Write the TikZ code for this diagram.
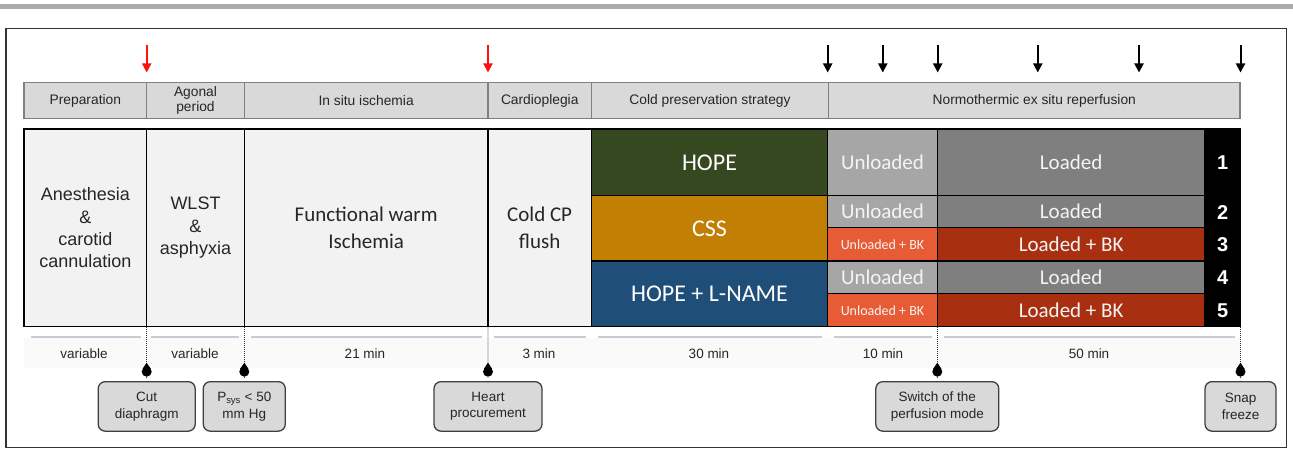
\documentclass[tikz,border=0pt]{standalone}
\usepackage{fontspec}
\setmainfont{Liberation Sans}
\newfontfamily\calib{Carlito}
\usetikzlibrary{arrows.meta}
\definecolor{hopeC}{HTML}{36481F}
\definecolor{cssC}{HTML}{C17F04}
\definecolor{lnameC}{HTML}{1F4E79}
\definecolor{unlC}{HTML}{A6A6A6}
\definecolor{ldC}{HTML}{7F7F7F}
\definecolor{ubkC}{HTML}{E75B35}
\definecolor{lbkC}{HTML}{A92F11}
\definecolor{paleC}{HTML}{F2F2F2}
\definecolor{hdrC}{HTML}{D9D9D9}
\definecolor{hdrLine}{HTML}{808080}
\definecolor{durLine}{HTML}{C5CCD4}
\definecolor{durBg}{HTML}{FAFAFA}
\definecolor{txtC}{HTML}{262626}
\definecolor{topC}{HTML}{ABABAB}
\definecolor{frameC}{HTML}{333333}
\definecolor{redA}{HTML}{FF1010}
\definecolor{whiteT}{HTML}{F4F4F4}
\tikzset{
  hdr/.style={draw=hdrLine, line width=1.1pt, fill=hdrC, inner sep=0pt, outer sep=0pt,
    align=center, text=txtC, font=\fontsize{13.8}{15.6}\selectfont, minimum height=35.6pt},
  cell/.style={draw=black, line width=1.2pt, inner sep=0pt, outer sep=0pt, align=center},
  palecell/.style={cell, fill=paleC, text=txtC, minimum height=197.7pt},
  arialbig/.style={font=\fontsize{18}{22.3}\selectfont},
  calbig/.style={font=\calib\fontsize{21}{26.5}\selectfont},
  strat/.style={cell, fill=#1, text=white, font=\calib\fontsize{24}{28}\selectfont, minimum width=236.4pt},
  unl/.style={cell, fill=#1, text=whiteT, font=\calib\fontsize{21}{24}\selectfont, minimum width=109.6pt},
  unlsmall/.style={cell, fill=#1, text=whiteT, font=\calib\fontsize{14}{16}\selectfont, minimum width=109.6pt},
  ld/.style={cell, fill=#1, text=whiteT, font=\calib\fontsize{21}{24}\selectfont, minimum width=267.7pt},
  numlab/.style={text=white, font=\bfseries\fontsize{20}{24}\selectfont, inner sep=0pt},
  redarrow/.style={draw=redA, line width=2pt, -{Triangle[width=9pt,length=9pt]}},
  blackarrow/.style={draw=black, line width=2pt, -{Triangle[width=9pt,length=9pt]}},
  durseg/.style={draw=durLine, line width=2pt},
  durlabel/.style={text=txtC, font=\fontsize{13.5}{16}\selectfont, inner sep=0pt},
  dotline/.style={draw=black!80, line width=0.9pt, dash pattern=on 1pt off 1pt},
  callout/.style={draw=black!75, line width=1.3pt, fill=hdrC, rounded corners=7pt, inner sep=0pt,
    outer sep=0pt, align=center, text=txtC, font=\fontsize{13.5}{16.7}\selectfont, minimum height=49.5pt},
}
\newcommand\droppin[1]{%
  \fill[black] (#1,371.7) circle (5pt);
  \fill[black] (#1,362.7) -- (#1-4.16,368.9) -- (#1+4.16,368.9) -- cycle;}
\begin{document}
\begin{tikzpicture}[x=1pt,y=-1pt]
\useasboundingbox (0,0) rectangle (1293,449);
% top bar and frame
\fill[topC] (0,4) rectangle (1293,9);
\draw[frameC, line width=1.5pt] (6,28.3) rectangle (1286.3,447.5);

% header
\node[hdr, minimum width=122.7pt] (hPrep) at (85.35,100.5) {Preparation};
\node[hdr, minimum width=97.6pt] (hAgon) at (195.5,100.5) {Agonal\\period};
\node[hdr, minimum width=243.7pt] (hSitu) at (366.15,100.5) {In situ ischemia};
\node[hdr, minimum width=103.5pt] (hCard) at (539.75,100.5) {Cardioplegia};
\node[hdr, minimum width=237pt] (hCold) at (710,100.5) {Cold preservation strategy};
\node[hdr, minimum width=411.5pt] (hNorm) at (1034.25,100.5) {Normothermic ex situ reperfusion};

% arrows
\foreach \i/\xx in {1/146.7,2/488}{
  \coordinate (rt\i) at (\xx,45);
  \coordinate (rh\i) at (\xx,72.5);
  \draw[redarrow] (rt\i) -- (rh\i);
}
\foreach \i/\xx in {1/827.7,2/882.8,3/937.7,4/1037.8,5/1139,6/1240.5}{
  \coordinate (bt\i) at (\xx,45);
  \coordinate (bh\i) at (\xx,72.5);
  \draw[blackarrow] (bt\i) -- (bh\i);
}

% table: pale cells
\node[palecell, arialbig, minimum width=122.7pt] (cAnes) at (85.35,227.85) {Anesthesia\\\&\\carotid\\cannulation};
\node[palecell, arialbig, minimum width=97.6pt] (cWlst) at (195.5,227.85) {WLST\\\&\\asphyxia};
\node[palecell, calbig, minimum width=243.7pt] (cFwi) at (366.15,227.85) {Functional warm\\Ischemia};
\node[palecell, calbig, minimum width=103.3pt] (cFlush) at (539.65,227.85) {Cold CP\\flush};

% strategies
\node[strat=hopeC, minimum height=66.7pt] (cHope) at (709.5,162.35) {HOPE};
\node[strat=cssC, minimum height=65.3pt] (cCss) at (709.5,228.35) {CSS};
\node[strat=lnameC, minimum height=65.7pt] (cLname) at (709.5,293.85) {HOPE + L-NAME};

% unloaded
\node[unl=unlC, minimum height=66.7pt] (u1) at (882.5,162.35) {Unloaded};
\node[unl=unlC, minimum height=32pt] (u2) at (882.5,211.7) {Unloaded};
\node[unlsmall=ubkC, minimum height=33.3pt] (u3) at (882.5,244.35) {Unloaded + BK};
\node[unl=unlC, minimum height=32.7pt] (u4) at (882.5,277.35) {Unloaded};
\node[unlsmall=ubkC, minimum height=33pt] (u5) at (882.5,310.2) {Unloaded + BK};

% loaded
\node[ld=ldC, minimum height=66.7pt] (l1) at (1071.15,162.35) {Loaded};
\node[ld=ldC, minimum height=32pt] (l2) at (1071.15,211.7) {Loaded};
\node[ld=lbkC, minimum height=33.3pt] (l3) at (1071.15,244.35) {Loaded + BK};
\node[ld=ldC, minimum height=32.7pt] (l4) at (1071.15,277.35) {Loaded};
\node[ld=lbkC, minimum height=33pt] (l5) at (1071.15,310.2) {Loaded + BK};

% number column
\node[cell, fill=black, minimum width=35.5pt, minimum height=197.7pt] (numcol) at (1222.75,227.85) {};
\node[numlab] (n1) at (1222.7,162.8) {1};
\node[numlab] (n2) at (1222.7,212.2) {2};
\node[numlab] (n3) at (1222.7,244.9) {3};
\node[numlab] (n4) at (1222.7,277.9) {4};
\node[numlab] (n5) at (1222.7,310.7) {5};

% durations row
\fill[durBg] (24,338) rectangle (1240,368);
\draw[durseg] (31,336.5) -- (141,336.5);
\draw[durseg] (151,336.5) -- (239,336.5);
\draw[durseg] (251,336.5) -- (482,336.5);
\draw[durseg] (494,336.5) -- (586,336.5);
\draw[durseg] (598,336.5) -- (822,336.5);
\draw[durseg] (834,336.5) -- (932,336.5);
\draw[durseg] (944,336.5) -- (1235,336.5);
\node[durlabel] (d1) at (84,354) {variable};
\node[durlabel] (d2) at (195,354) {variable};
\node[durlabel] (d3) at (365,354) {21 min};
\node[durlabel] (d4) at (539,354) {3 min};
\node[durlabel] (d5) at (709,354) {30 min};
\node[durlabel] (d6) at (883,354) {10 min};
\node[durlabel] (d7) at (1089,354) {50 min};

% callout boxes
\node[callout, minimum width=97pt] (bCut) at (146.7,406.4) {Cut\\diaphragm};
\node[callout, minimum width=82pt] (bPsys) at (244.3,406.4) {P\textsubscript{sys} < 50\\mm\hspace{4pt}Hg};
\node[callout, minimum width=108pt] (bHeart) at (488,406.4) {Heart\\procurement};
\node[callout, minimum width=123pt] (bSwitch) at (937.3,406.4) {Switch of the\\perfusion mode};
\node[callout, minimum width=71pt] (bSnap) at (1240.5,406.4) {Snap\\freeze};

% dotted connectors with drop pins
\draw[dotline] (cAnes.south east) -- (bCut.north);
\draw[dotline] (cWlst.south east) -- (bPsys.north);
\draw[dotline] (cFwi.south east) -- (bHeart.north);
\draw[dotline] (u5.south east) -- (bSwitch.north);
\draw[dotline] (numcol.south east) -- (bSnap.north);
\fill[white] (100,377.5) rectangle (1280,380.9);
\droppin{146.7}
\droppin{244.3}
\droppin{488}
\droppin{937.3}
\droppin{1240.5}
\end{tikzpicture}
\end{document}
